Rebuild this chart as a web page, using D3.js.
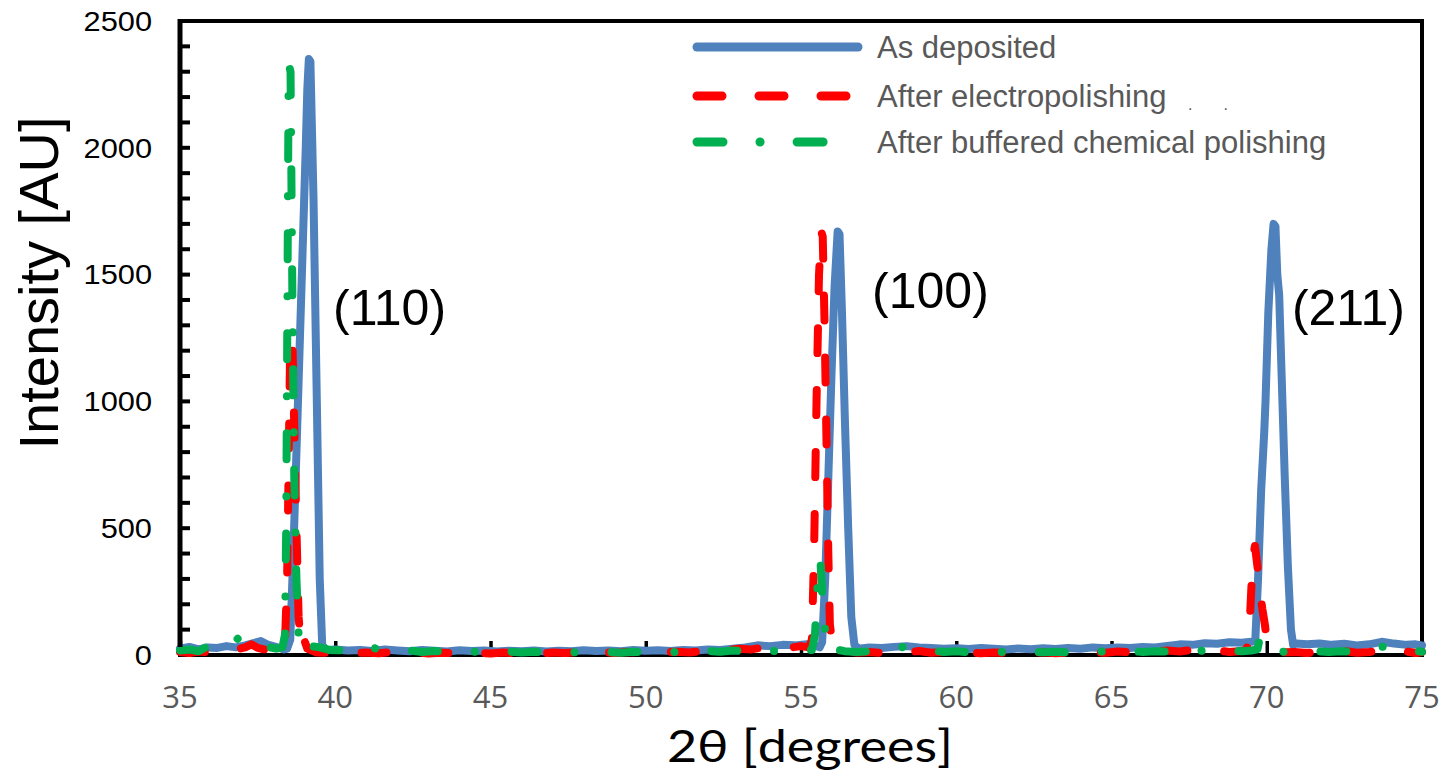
<!DOCTYPE html>
<html lang="en">
<head>
<meta charset="UTF-8">
<title>XRD patterns</title>
<script src="https://d3js.org/d3.v7.min.js"></script>
<style>
  body { margin: 0; background: #fff; overflow: hidden; }
  text { font-family: "Liberation Sans", Arial, sans-serif; }
</style>
</head>
<body>
<div id="chart"></div>
<script>
// 2theta [deg], intensity [AU]
const asDeposited = [
  [35.0,25],[35.3,32],[35.6,22],[35.9,30],[36.2,28],[36.5,35],[36.8,30],[37.1,38],[37.4,48],[37.6,55],
  [37.8,42],[38.0,35],[38.2,28],[38.35,22],[38.45,25],[38.55,60],[38.65,400],[38.75,800],[38.85,1200],
  [38.95,1600],[39.05,2000],[39.10,2230],[39.15,2350],[39.20,2340],[39.30,1800],[39.40,1050],[39.50,300],
  [39.58,40],[39.70,20],[40.0,22],[40.4,18],[40.8,20],[41.2,16],[41.6,22],[42.0,18],[42.4,15],[42.8,20],
  [43.2,17],[43.6,14],[44.0,19],[44.4,16],[44.8,18],[45.2,14],[45.6,17],[46.0,15],[46.4,18],[46.8,14],
  [47.2,17],[47.6,15],[48.0,19],[48.4,16],[48.8,18],[49.2,15],[49.6,20],[50.0,17],[50.4,19],[50.8,16],
  [51.2,20],[51.6,18],[52.0,22],[52.4,20],[52.8,25],[53.2,30],[53.6,38],[54.0,35],[54.4,40],[54.8,38],
  [55.2,42],[55.5,35],[55.6,30],[55.68,50],[55.78,300],[55.88,700],[55.98,1100],[56.08,1450],[56.18,1670],
  [56.24,1660],[56.32,1350],[56.42,900],[56.52,500],[56.62,150],[56.72,40],[56.85,25],[57.2,30],[57.6,28],
  [58.0,32],[58.4,35],[58.8,30],[59.2,28],[59.6,25],[60.0,27],[60.4,24],[60.8,28],[61.2,25],[61.6,22],
  [62.0,26],[62.4,23],[62.8,27],[63.2,24],[63.6,28],[64.0,25],[64.4,30],[64.8,27],[65.2,30],[65.6,28],
  [66.0,32],[66.4,30],[66.8,36],[67.2,42],[67.6,40],[68.0,46],[68.4,44],[68.8,50],[69.2,48],[69.5,52],
  [69.63,55],[69.72,300],[69.82,650],[69.92,880],[69.96,1000],[70.05,1350],[70.15,1600],[70.22,1700],
  [70.28,1690],[70.34,1500],[70.40,1420],[70.48,1100],[70.58,700],[70.68,350],[70.78,100],[70.85,40],
  [70.95,45],[71.3,42],[71.7,45],[72.1,40],[72.5,44],[72.9,38],[73.3,42],[73.7,52],[74.1,45],[74.5,40],
  [74.8,42],[75.0,38]
];

const electropolished = [
  [35.0,12],[35.3,8],[35.6,14],[35.9,10],[36.2,18],[36.5,12],[36.8,22],[37.1,30],[37.3,42],[37.5,28],
  [37.8,20],[38.0,25],[38.2,40],[38.3,62],[38.38,45],[38.45,300],[38.50,750],[38.55,1250],[38.62,1240],
  [38.68,900],[38.75,500],[38.82,150],[38.88,60],[38.94,95],[39.0,60],[39.1,25],[39.4,10],[39.8,8],
  [40.2,12],[40.6,6],[41.0,10],[41.4,7],[41.8,12],[42.2,8],[42.6,10],[43.0,6],[43.4,9],[43.8,7],[44.2,11],
  [44.6,8],[45.0,6],[45.4,10],[45.8,7],[46.2,9],[46.6,6],[47.0,10],[47.4,8],[47.8,12],[48.2,9],[48.6,11],
  [49.0,8],[49.4,12],[49.8,10],[50.2,14],[50.6,11],[51.0,13],[51.4,10],[51.8,15],[52.2,12],[52.6,18],
  [53.0,25],[53.4,22],[53.8,30],[54.2,20],[54.6,28],[55.0,35],[55.25,30],[55.35,60],[55.42,400],
  [55.50,1000],[55.58,1500],[55.65,1670],[55.70,1650],[55.76,1300],[55.82,850],[55.88,400],[55.93,120],
  [56.0,55],[56.1,30],[56.4,15],[56.8,10],[57.2,12],[57.6,8],[58.0,14],[58.4,10],[58.8,16],[59.2,9],
  [59.6,12],[60.0,8],[60.4,11],[60.8,7],[61.2,10],[61.6,8],[62.0,12],[62.4,9],[62.8,11],[63.2,7],
  [63.6,10],[64.0,8],[64.4,12],[64.8,9],[65.2,14],[65.6,10],[66.0,16],[66.4,12],[66.8,18],[67.2,14],
  [67.6,20],[68.0,15],[68.4,18],[68.8,12],[69.2,16],[69.35,20],[69.42,60],[69.48,200],[69.55,380],
  [69.62,430],[69.70,350],[69.78,250],[69.86,180],[69.94,120],[70.0,60],[70.08,20],[70.15,15],[70.5,10],
  [70.9,12],[71.3,8],[71.7,14],[72.1,10],[72.5,16],[72.9,9],[73.3,12],[73.7,18],[74.1,10],[74.5,14],
  [74.8,8],[75.0,12]
];

const bcp = [
  [35.0,18],[35.3,22],[35.6,15],[35.9,35],[36.1,45],[36.3,30],[36.6,40],[36.9,68],[37.1,45],[37.3,35],
  [37.6,42],[37.9,30],[38.1,25],[38.3,30],[38.38,80],[38.42,500],[38.46,1400],[38.50,2330],[38.56,2300],
  [38.62,1400],[38.68,700],[38.75,300],[38.82,80],[38.88,60],[38.94,90],[39.0,45],[39.2,35],[39.5,30],
  [39.8,20],[40.2,18],[40.6,38],[40.9,35],[41.2,28],[41.6,20],[42.0,15],[42.4,18],[42.8,12],[43.2,16],
  [43.6,10],[44.0,15],[44.4,12],[44.8,16],[45.2,10],[45.6,14],[46.0,10],[46.4,13],[46.8,9],[47.2,12],
  [47.6,10],[48.0,14],[48.4,10],[48.8,12],[49.2,9],[49.6,13],[50.0,10],[50.4,14],[50.8,11],[51.2,15],
  [51.6,12],[52.0,16],[52.4,13],[52.8,18],[53.2,14],[53.6,20],[54.0,15],[54.4,18],[54.8,14],[55.1,20],
  [55.35,20],[55.45,80],[55.52,250],[55.58,380],[55.63,360],[55.70,200],[55.76,120],[55.82,40],[55.9,55],
  [56.0,25],[56.4,15],[56.8,12],[57.2,15],[57.6,18],[58.0,22],[58.3,32],[58.6,35],[58.9,28],[59.2,18],
  [59.6,12],[60.0,15],[60.4,11],[60.8,14],[61.2,10],[61.6,13],[62.0,10],[62.4,14],[62.8,11],[63.2,13],
  [63.6,10],[64.0,14],[64.4,11],[64.8,15],[65.2,12],[65.6,16],[66.0,12],[66.4,15],[66.8,13],[67.2,17],
  [67.6,14],[68.0,18],[68.4,14],[68.8,17],[69.2,15],[69.5,18],[69.7,22],[69.78,70],[69.85,50],[69.95,30],
  [70.05,15],[70.4,12],[70.8,15],[71.2,11],[71.6,14],[72.0,12],[72.4,15],[72.8,13],[73.2,28],[73.5,35],
  [73.8,32],[74.1,18],[74.5,14],[74.8,16],[75.0,13]
];

const seriesNames = ["As deposited", "After electropolishing", "After buffered chemical polishing"];
const xTicks = [35, 40, 45, 50, 55, 60, 65, 70, 75];
const yTicks = [0, 500, 1000, 1500, 2000, 2500];
const peakNames = ["(110)", "(100)", "(211)"];

const width = 1445, height = 776;
const margin = { left: 180, right: 23, top: 21, bottom: 121 };

const svg = d3.select("#chart").append("svg")
  .attr("width", width)
  .attr("height", height);

const x = d3.scaleLinear().domain([35, 75]).range([margin.left, width - margin.right]);
const y = d3.scaleLinear().domain([0, 2500]).range([height - margin.bottom, margin.top]);

const styles = [
  { color: "#4f81bd", dash: null },
  { color: "#ff0000", dash: "25,37" },
  { color: "#00b050", dash: "26,37,0.1,37" }
];

// frame first, the series are painted over it like in Excel
svg.append("path")
  .attr("d", `M${x(35)},${y(2500)}H${x(75)}V${y(0)}H${x(35)}Z`)
  .style("fill", "none")
  .style("stroke", "#000")
  .style("stroke-width", "4px");

svg.append("g")
  .attr("transform", `translate(0,${y(0)})`)
  .call(d3.axisTop(x).tickValues(xTicks).tickSize(14).tickFormat(""))
  .call(g => g.select(".domain").remove())
  .call(g => g.selectAll("line").style("stroke", "#000").style("stroke-width", "3.5px"));

const line = d3.line().x(d => x(d[0])).y(d => y(d[1]));

[asDeposited, electropolished, bcp].forEach((s, i) => {
  svg.append("path")
    .datum(s)
    .attr("d", line)
    .attr("fill", "none")
    .attr("stroke", styles[i].color)
    .attr("stroke-width", 8)
    .attr("stroke-linecap", "round")
    .attr("stroke-linejoin", "round")
    .attr("stroke-dasharray", styles[i].dash);
});

// y axis: solid black line with ticks every 100 pointing inside
const yAxis = svg.append("g");
yAxis.append("rect")
  .attr("x", x(35) - 2.5).attr("y", y(2500) - 2)
  .attr("width", 5).attr("height", y(0) - y(2500) - 6)
  .attr("fill", "#000");
yAxis.selectAll("rect.tick")
  .data(d3.range(100, 2501, 100))
  .join("rect")
  .attr("class", "tick")
  .attr("x", x(35))
  .attr("y", d => y(d) - 2)
  .attr("width", 10)
  .attr("height", 4)
  .attr("fill", "#000");

// y tick labels
svg.append("g").selectAll("text")
  .data(yTicks)
  .join("text")
  .attr("transform", d => `translate(152,${y(d)}) scale(1.1,1)`)
  .attr("text-anchor", "end")
  .attr("dy", "0.35em")
  .attr("font-size", 28)
  .attr("fill", "#000")
  .text(d => d);

// x tick labels
svg.append("g").selectAll("text")
  .data(xTicks)
  .join("text")
  .attr("x", d => x(d))
  .attr("y", 708)
  .attr("text-anchor", "middle")
  .attr("font-size", 31)
  .attr("fill", "#595959")
  .style("font-family", "'Open Sans', sans-serif")
  .text(d => d);

// axis titles
svg.append("text")
  .attr("x", 810).attr("y", 762)
  .attr("text-anchor", "middle")
  .attr("font-size", 44)
  .attr("textLength", 286)
  .attr("lengthAdjust", "spacingAndGlyphs")
  .style("font-family", "Lato, 'Open Sans', sans-serif")
  .text("2θ [degrees]");

svg.append("text")
  .attr("transform", "translate(58,283) rotate(-90)")
  .attr("text-anchor", "middle")
  .attr("font-size", 56)
  .text("Intensity [AU]");

// peak labels
const peakPos = [[39.93, 1300], [57.29, 1370], [70.81, 1300]];
svg.append("g").selectAll("text")
  .data(peakNames)
  .join("text")
  .attr("x", (d, i) => x(peakPos[i][0]))
  .attr("y", (d, i) => y(peakPos[i][1]))
  .attr("font-size", 50)
  .text(d => d);

// legend
const legend = svg.append("g");
seriesNames.forEach((name, i) => {
  const ly = [47, 96, 142][i];
  legend.append("line")
    .attr("x1", 697).attr("x2", 858)
    .attr("y1", ly).attr("y2", ly)
    .attr("stroke", styles[i].color)
    .attr("stroke-width", 9)
    .attr("stroke-linecap", "round")
    .attr("stroke-dasharray", styles[i].dash);
  legend.append("text")
    .attr("x", 877).attr("y", ly + 11)
    .attr("font-size", 31)
    .attr("fill", "#595959")
    .text(name);
});
legend.append("text")
  .attr("x", 1188).attr("y", 110)
  .attr("font-size", 16)
  .attr("fill", "#595959")
  .attr("xml:space", "preserve")
  .text(".       .");
</script>
</body>
</html>
